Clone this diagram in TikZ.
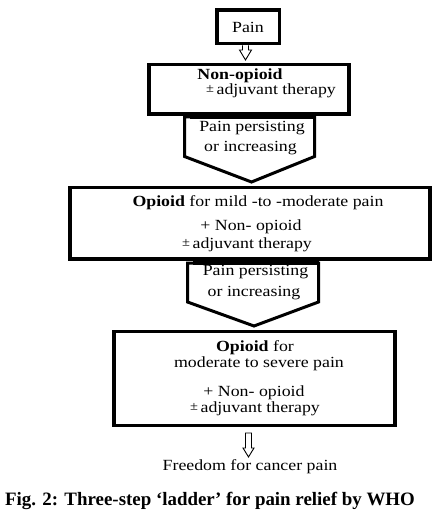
\documentclass[tikz,border=0pt]{standalone}
\usepackage{fontspec}
\setmainfont{Liberation Serif}
\newfontfamily\bodyf[FakeStretch=1.15]{Liberation Serif}
\newcommand{\pmsmall}{{\fontsize{12.5}{12.5}\selectfont\raisebox{2pt}{±}}\,}
\begin{document}
\begin{tikzpicture}[x=1pt,y=-1pt,
  box/.style={draw, line width=3.5pt, inner sep=0pt, outer sep=0pt},
  txt/.style={inner sep=0pt, font=\bodyf\fontsize{15.5}{18}\selectfont},
  pent/.style={draw, line width=3pt, line join=miter},
  bar/.style={line width=4pt},
  openarrow/.style={draw, line width=0.9pt, fill=white, line join=miter}]
\useasboundingbox[fill=white] (0,0) rectangle (437,521);

% boxes
\node[box, minimum width=62.5pt, minimum height=33.5pt, txt] (pain) at (248,27) {Pain};
\node[box, minimum width=200pt, minimum height=49.5pt] (nonop) at (249,89.25) {};
\node[box, minimum width=360pt, minimum height=71.5pt] (opa) at (250,223.25) {};
\node[box, minimum width=281pt, minimum height=94pt] (opb) at (254.5,378.5) {};

% texts in box 1
\node[txt] (t1a) at (240,76) {\bfseries Non-opioid};
\node[txt] (t1b) at (271,91) {\pmsmall adjuvant therapy};
% texts in box 2
\node[txt] (t2a) at (258,203) {\bfseries Opioid\mdseries{} for mild -to -moderate pain};
\node[txt] (t2b) at (251,227) {+ Non- opioid};
\node[txt] (t2c) at (247,245) {\pmsmall adjuvant therapy};
% texts in box 3
\node[txt] (t3a) at (255,347.5) {\bfseries Opioid\mdseries{} for};
\node[txt] (t3b) at (259,364) {moderate to severe pain};
\node[txt] (t3c) at (254,392.5) {+ Non- opioid};
\node[txt] (t3d) at (255,408.5) {\pmsmall adjuvant therapy};

% pentagon arrows
\draw[pent] (184.5,117) -- (314.5,117) -- (314.5,156.5) -- (251.5,182) -- (184.5,156.5) -- cycle;
\draw[bar] (190,117) -- (314.5,117);
\node[txt] (pa1) at (252,128) {Pain persisting};
\node[txt] (pa2) at (250.5,148.5) {or increasing};

\draw[pent] (187.5,263) -- (318.5,263) -- (318.5,302) -- (254,326) -- (187.5,302) -- cycle;
\draw[bar] (193,263) -- (318.5,263);
\node[txt] (pb1) at (255.5,272) {Pain persisting};
\node[txt] (pb2) at (254,293) {or increasing};

% small open arrows
\draw[openarrow] (242.5,45.5) -- (242.5,50) -- (239.5,50) -- (245.5,60) -- (251.5,50) -- (248.5,50) -- (248.5,45.5);
\node[txt] (free) at (250,467) {Freedom for cancer pain};
\draw[openarrow] (245.5,433) -- (245.5,448) -- (243,448) -- (248.5,457) -- (254,448) -- (251.5,448) -- (251.5,433) -- cycle;

% caption
\node[inner sep=0pt, font=\bfseries\fontsize{18.9}{20}\selectfont] (cap) at (210,501) {Fig. 2: Three-step ‘ladder’ for pain relief by WHO};
\end{tikzpicture}
\end{document}
